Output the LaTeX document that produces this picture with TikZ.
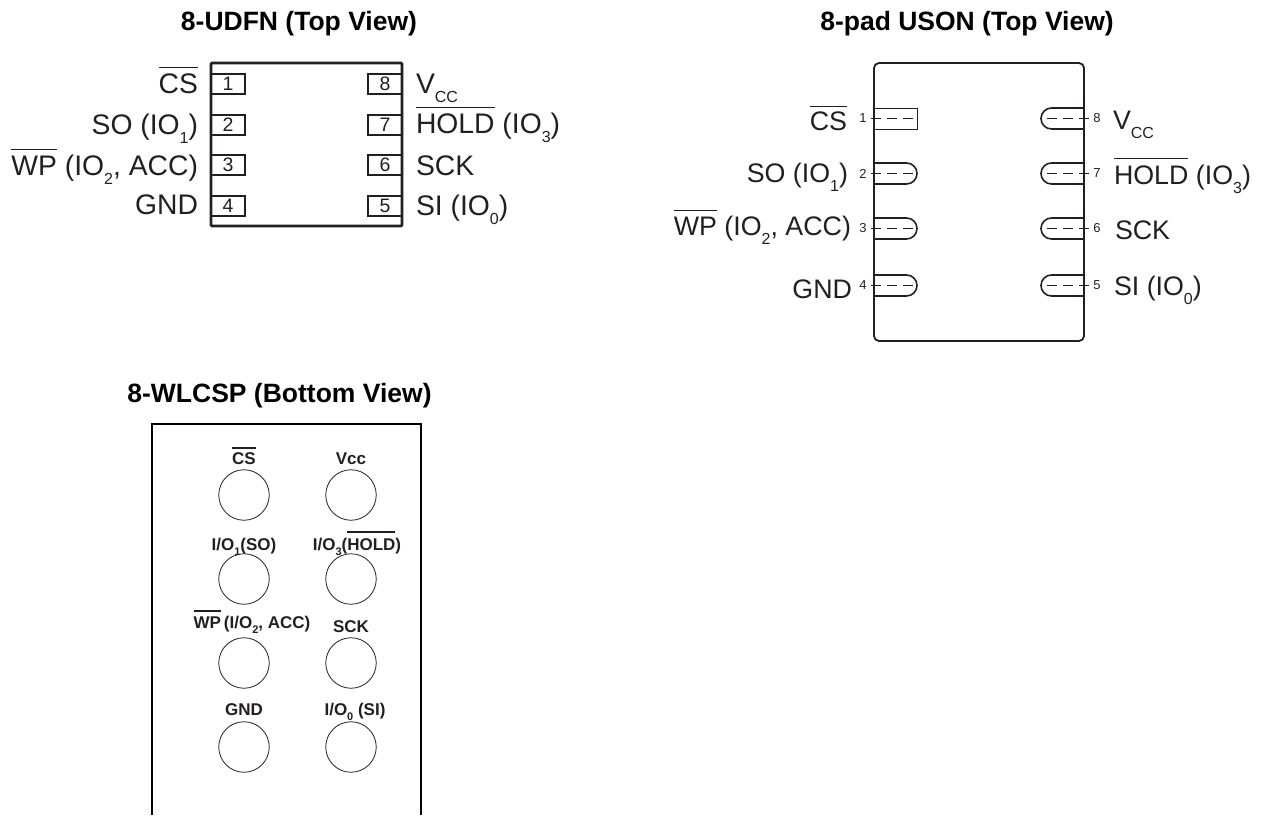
\documentclass[tikz,border=0pt]{standalone}
\usepackage{fontspec}
\setmainfont{Liberation Sans}
\usepackage{tikz}
\usetikzlibrary{shapes.misc}
\definecolor{inkgray}{HTML}{231F20}
\tikzstyle{every node}=[inner sep=0pt, outer sep=0pt, text=inkgray]
\newcommand{\barred}[3][1pt]{\leavevmode\setbox0=\hbox{#3}\rlap{\raisebox{#2}{\rule{\wd0}{#1}}}\box0\relax}
\newcommand{\lowered}[1]{\raisebox{-9pt}{\fontsize{16}{16}\selectfont #1}}
\newcommand{\lowerbold}[1]{\raisebox{-5pt}{\fontsize{11}{11}\selectfont #1}}

\begin{document}
\begin{tikzpicture}[
    x=1pt,
    y=-1pt,
    title/.style={
        anchor=base,
        text=black,
        font=\bfseries\fontsize{26.5}{30}\selectfont
        },
    leftlabel/.style={
        anchor=base east,
        font=\fontsize{28.3}{30}\selectfont
        },
    rightlabel/.style={
        anchor=base west,
        font=\fontsize{28.3}{30}\selectfont
        },
    usonsize/.style={
        font=\fontsize{26.8}{30}\selectfont
        },
    squarepad/.style={
        draw=inkgray,
        line width=2pt,
        minimum width=34pt,
        minimum height=20pt,
        font=\fontsize{19.5}{20}\selectfont
        },
    leftpad/.style={
        rounded rectangle,
        rounded rectangle left arc=none,
        draw=inkgray,
        line width=1.6pt,
        inner ysep=10.5pt,
        minimum width=43pt
        },
    rightpad/.style={
        rounded rectangle,
        rounded rectangle right arc=none,
        draw=inkgray,
        line width=1.6pt,
        inner ysep=10.5pt,
        minimum width=43pt
        },
    pinnumber/.style={
        minimum width=16pt,
        font=\fontsize{13}{14}\selectfont
        },
    leadline/.style={
        draw=inkgray,
        line width=0.7pt,
        dash pattern=on 10pt off 6pt
        },
    ball/.style={
        circle,
        draw=inkgray,
        line width=0.8pt,
        minimum size=50.5pt
        },
    balllabel/.style={
        anchor=base,
        font=\bfseries\fontsize{17}{18}\selectfont
        },
  ]
  \useasboundingbox (0,0) rectangle (1262,815);

  % 8-UDFN
  \node[title] (udfntitle) at (299,30) {8-UDFN (Top View)};
  \draw[inkgray, line width=2.8pt, rounded corners=1pt] (211,63) rectangle (402,226);
  \node[squarepad] (udfn1) at (228,84) {1};
  \node[squarepad] (udfn2) at (228,124.5) {2};
  \node[squarepad] (udfn3) at (228,165) {3};
  \node[squarepad] (udfn4) at (228,205.5) {4};
  \node[squarepad] (udfn8) at (385,84) {8};
  \node[squarepad] (udfn7) at (385,124.5) {7};
  \node[squarepad] (udfn6) at (385,165) {6};
  \node[squarepad] (udfn5) at (385,205.5) {5};
  \node[leftlabel] (udfncs) at (198,93) {\barred{25pt}{CS}};
  \node[leftlabel] (udfnso) at (198,134) {SO (IO\lowered{1})};
  \node[leftlabel] (udfnwp) at (198,175) {\barred{25pt}{WP} (IO\lowered{2}, ACC)};
  \node[leftlabel] (udfngnd) at (198,214) {GND};
  \node[rightlabel] (udfnvcc) at (416,93) {V\lowered{CC}};
  \node[rightlabel] (udfnhold) at (416,133) {\barred{25pt}{HOLD} (IO\lowered{3})};
  \node[rightlabel] (udfnsck) at (416,175) {SCK};
  \node[rightlabel] (udfnsi) at (416,215) {SI (IO\lowered{0})};

  % 8-pad USON
  \node[title] (usontitle) at (967,30) {8-pad USON (Top View)};
  \draw[inkgray, line width=1.8pt, rounded corners=5pt] (874,63) rectangle (1084,341);
  \node[draw=inkgray, line width=0.7pt, minimum width=43pt, minimum height=21pt] (uson1) at (895.5,118.5) {};
  \node[leftpad] (uson2) at (895.5,173.5) {};
  \node[leftpad] (uson3) at (895.5,228.5) {};
  \node[leftpad] (uson4) at (895.5,285.5) {};
  \node[rightpad] (uson8) at (1062.5,118.5) {};
  \node[rightpad] (uson7) at (1062.5,173.5) {};
  \node[rightpad] (uson6) at (1062.5,228.5) {};
  \node[rightpad] (uson5) at (1062.5,285.5) {};
  \node[pinnumber] (pin1) at (863,118.5) {1};
  \node[pinnumber] (pin2) at (863,173.5) {2};
  \node[pinnumber] (pin3) at (863,228.5) {3};
  \node[pinnumber] (pin4) at (863,285.5) {4};
  \node[pinnumber] (pin8) at (1097,118.5) {8};
  \node[pinnumber] (pin7) at (1097,173.5) {7};
  \node[pinnumber] (pin6) at (1097,228.5) {6};
  \node[pinnumber] (pin5) at (1097,285.5) {5};
  \draw[leadline] (pin1.east) -- (uson1.east);
  \draw[leadline] (pin2.east) -- (uson2.east);
  \draw[leadline] (pin3.east) -- (uson3.east);
  \draw[leadline] (pin4.east) -- (uson4.east);
  \draw[leadline] (pin8.west) -- (uson8.west);
  \draw[leadline] (pin7.west) -- (uson7.west);
  \draw[leadline] (pin6.west) -- (uson6.west);
  \draw[leadline] (pin5.west) -- (uson5.west);
  \node[leftlabel, usonsize] (usoncs) at (847,130) {\barred{23pt}{CS}};
  \node[leftlabel, usonsize] (usonso) at (848,182) {SO (IO\lowered{1})};
  \node[leftlabel, usonsize] (usonwp) at (851,235) {\barred{24pt}{WP} (IO\lowered{2}, ACC)};
  \node[leftlabel, usonsize] (usongnd) at (852,298) {GND};
  \node[rightlabel, usonsize] (usonvcc) at (1113,129) {V\lowered{CC}};
  \node[rightlabel, usonsize] (usonhold) at (1114,184) {\barred{25pt}{HOLD} (IO\lowered{3})};
  \node[rightlabel, usonsize] (usonsck) at (1115,239) {SCK};
  \node[rightlabel, usonsize] (usonsi) at (1114,295) {SI (IO\lowered{0})};

  % 8-WLCSP
  \node[title] (wlcsptitle) at (279.5,402) {8-WLCSP (Bottom View)};
  \draw[black, line width=2pt] (152,815) -- (152,424) -- (421,424) -- (421,815);
  \node[ball] (ballcs) at (244,495) {};
  \node[ball] (ballvcc) at (351,495) {};
  \node[ball] (ballso) at (244,579) {};
  \node[ball] (ballhold) at (351,579) {};
  \node[ball] (ballwp) at (244,663) {};
  \node[ball] (ballsck) at (351,663) {};
  \node[ball] (ballgnd) at (244,747) {};
  \node[ball] (ballsi) at (351,747) {};
  \node[balllabel] (labelcs) at (244,464) {\barred[1.6pt]{15pt}{CS}};
  \node[balllabel] (labelvcc) at (351,464) {Vcc};
  \node[balllabel] (labelso) at (244,550) {I/O\lowerbold{1}(SO)};
  \node[balllabel] (labelhold) at (357,550) {I/O\lowerbold{3}(\barred[1.6pt]{17pt}{HOLD})};
  \node[balllabel] (labelwp) at (252,628) {\barred[1.6pt]{16pt}{WP}\hspace{3pt}(I/O\lowerbold{2}, ACC)};
  \node[balllabel] (labelsck) at (351,632) {SCK};
  \node[balllabel] (labelgnd) at (244,715) {GND};
  \node[balllabel] (labelsi) at (355,715) {I/O\lowerbold{0} (SI)};
\end{tikzpicture}
\end{document}
